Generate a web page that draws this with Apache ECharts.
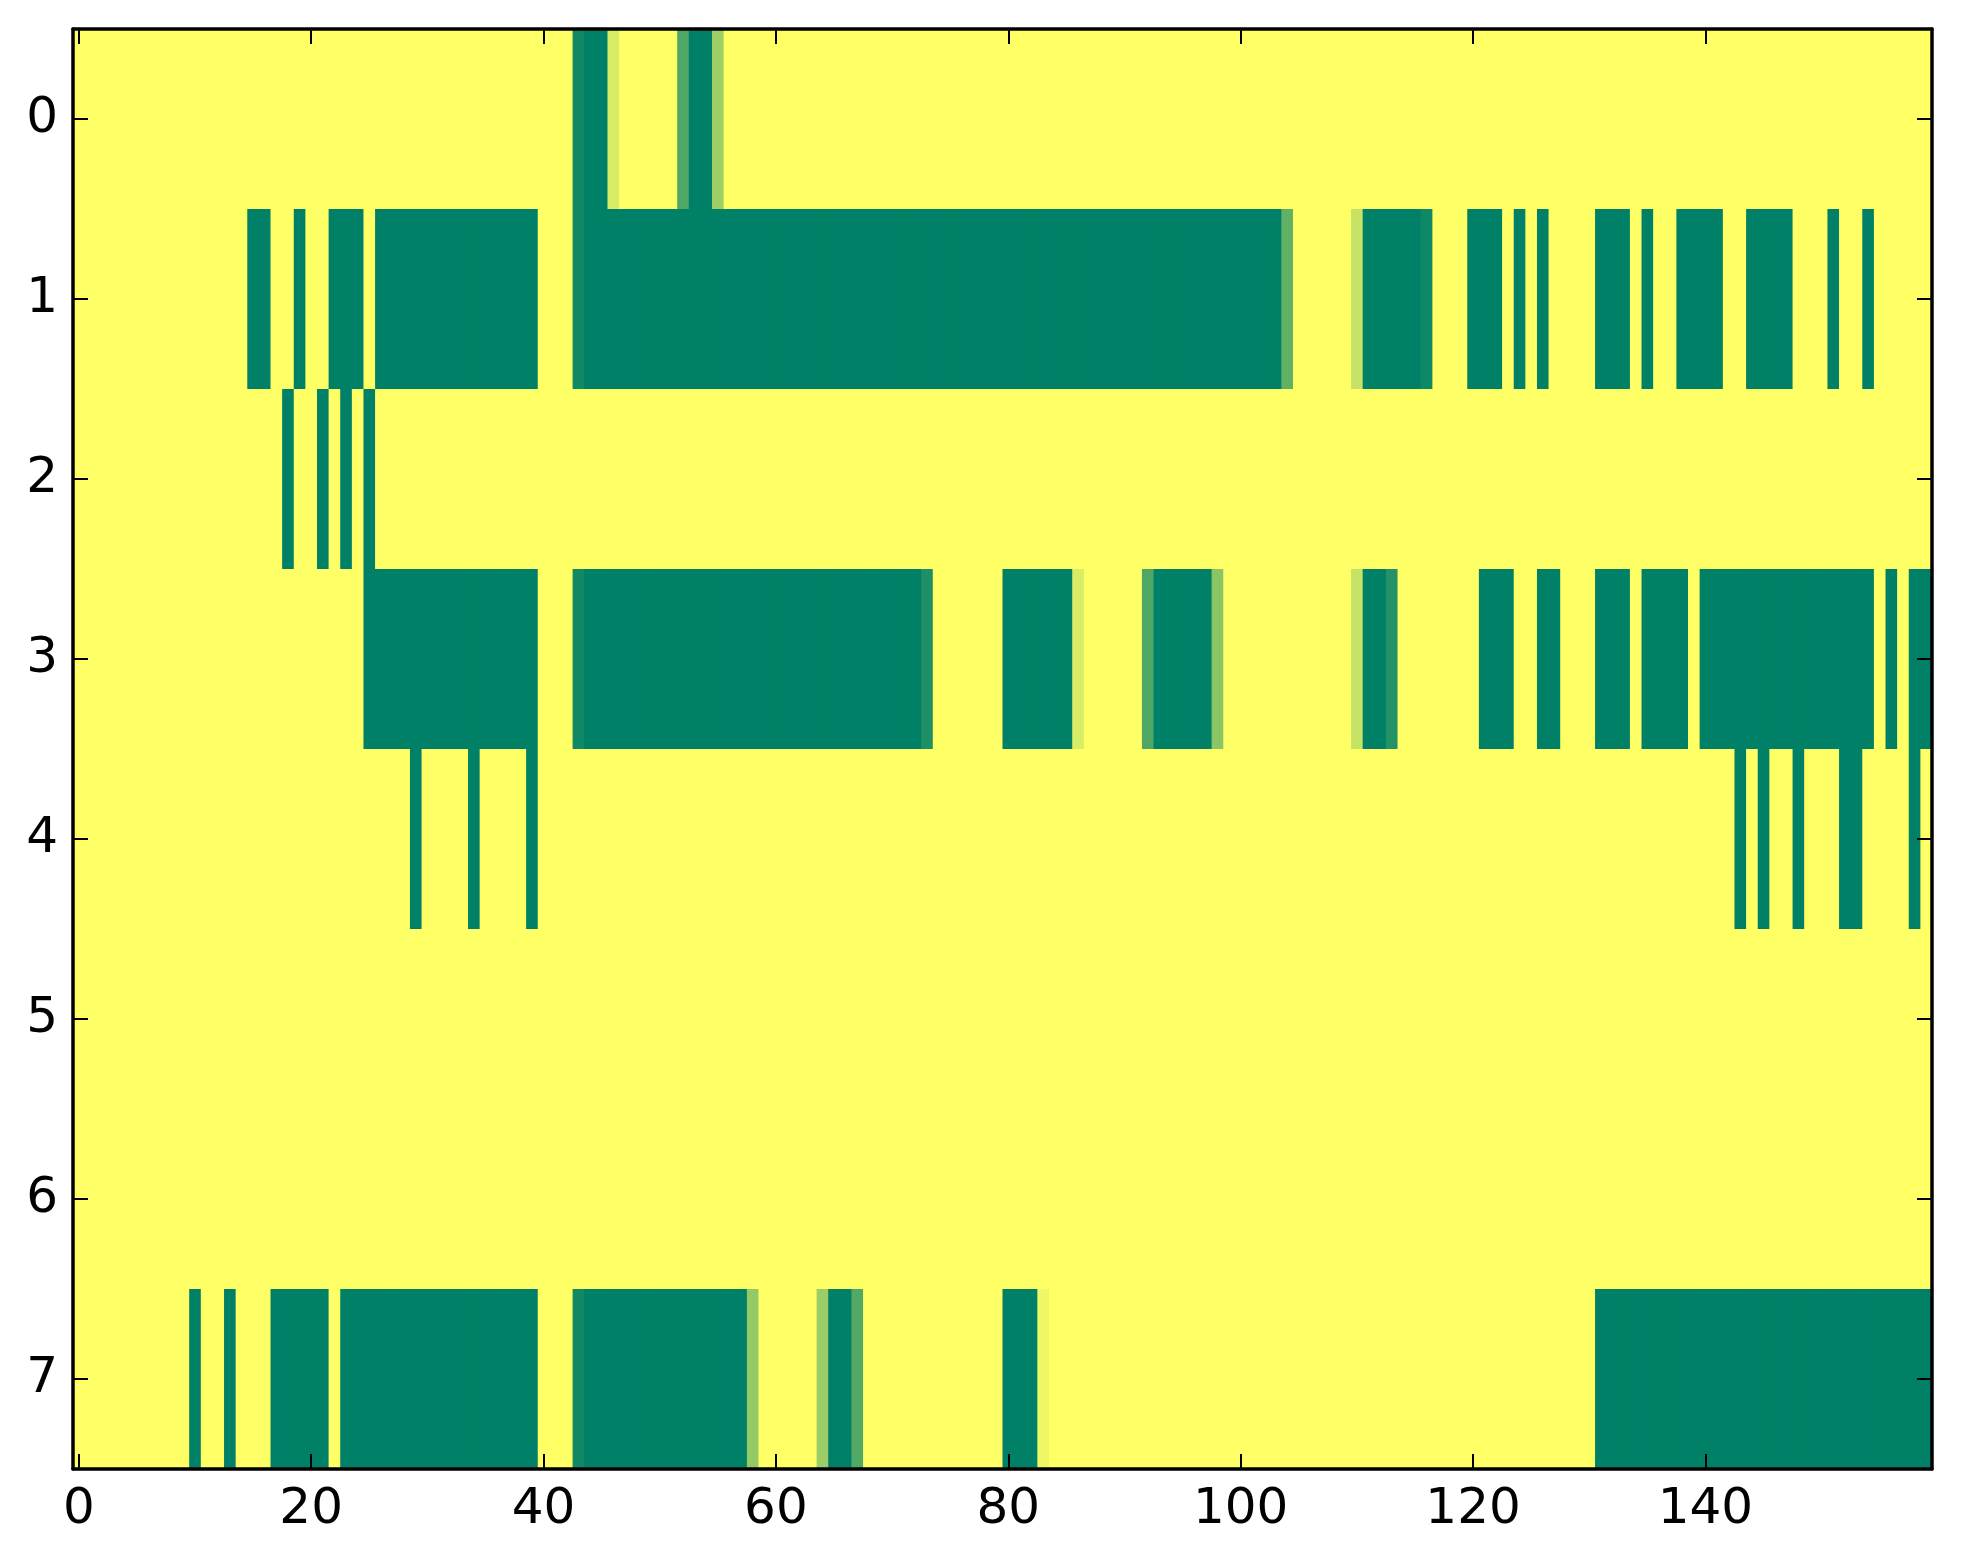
<!DOCTYPE html>
<html>
<head>
<meta charset="utf-8">
<script src="https://cdn.jsdelivr.net/npm/echarts@6/dist/echarts.min.js"></script>
<style>
html,body{margin:0;padding:0;background:#fff;}
#chart{width:1963px;height:1564px;}
</style>
</head>
<body>
<div id="chart"></div>
<script>
// Green level of each cell (0 = yellow, 1 = dark green), 160 columns per row
const row0 = [
0,0,0,0,0,0,0,0,0,0,0,0,0,0,0,0,0,0,0,0,
0,0,0,0,0,0,0,0,0,0,0,0,0,0,0,0,0,0,0,0,
0,0,0,0.93,1,1,0.15,0,0,0,0,0,0.69,1,1,0.38,0,0,0,0,
0,0,0,0,0,0,0,0,0,0,0,0,0,0,0,0,0,0,0,0,
0,0,0,0,0,0,0,0,0,0,0,0,0,0,0,0,0,0,0,0,
0,0,0,0,0,0,0,0,0,0,0,0,0,0,0,0,0,0,0,0,
0,0,0,0,0,0,0,0,0,0,0,0,0,0,0,0,0,0,0,0,
0,0,0,0,0,0,0,0,0,0,0,0,0,0,0,0,0,0,0,0
];
const row1 = [
0,0,0,0,0,0,0,0,0,0,0,0,0,0,0,1,1,0,0,1,
0,0,1,1,1,0,1,1,1,1,1,1,1,1,1,1,1,1,1,1,
0,0,0,0.93,1,1,1,1,1,1,1,1,1,1,1,1,1,1,1,1,
1,1,1,1,1,1,1,1,1,1,1,1,1,1,1,1,1,1,1,1,
1,1,1,1,1,1,1,1,1,1,1,1,1,1,1,1,1,1,1,1,
1,1,1,1,0.62,0,0,0,0,0,0.22,1,1,1,1,1,0.94,0,0,0,
1,1,1,0,1,0,1,0,0,0,0,1,1,1,0,1,0,0,1,1,
1,1,0,0,1,1,1,1,0,0,0,1,0,0,1,0,0,0,0,0
];
const row2 = [
0,0,0,0,0,0,0,0,0,0,0,0,0,0,0,0,0,0,1,0,
0,1,0,1,0,1,0,0,0,0,0,0,0,0,0,0,0,0,0,0,
0,0,0,0,0,0,0,0,0,0,0,0,0,0,0,0,0,0,0,0,
0,0,0,0,0,0,0,0,0,0,0,0,0,0,0,0,0,0,0,0,
0,0,0,0,0,0,0,0,0,0,0,0,0,0,0,0,0,0,0,0,
0,0,0,0,0,0,0,0,0,0,0,0,0,0,0,0,0,0,0,0,
0,0,0,0,0,0,0,0,0,0,0,0,0,0,0,0,0,0,0,0,
0,0,0,0,0,0,0,0,0,0,0,0,0,0,0,0,0,0,0,0
];
const row3 = [
0,0,0,0,0,0,0,0,0,0,0,0,0,0,0,0,0,0,0,0,
0,0,0,0,0,1,1,1,1,1,1,1,1,1,1,1,1,1,1,1,
0,0,0,0.93,1,1,1,1,1,1,1,1,1,1,1,1,1,1,1,1,
1,1,1,1,1,1,1,1,1,1,1,1,1,0.88,0,0,0,0,0,0,
1,1,1,1,1,1,0.15,0,0,0,0,0,0.69,1,1,1,1,1,0.46,0,
0,0,0,0,0,0,0,0,0,0,0.22,1,1,0.86,0,0,0,0,0,0,
0,1,1,1,0,0,1,1,0,0,0,1,1,1,0,1,1,1,1,0,
1,1,1,1,1,1,1,1,1,1,1,1,1,1,1,0,1,0,1,1
];
const row4 = [
0,0,0,0,0,0,0,0,0,0,0,0,0,0,0,0,0,0,0,0,
0,0,0,0,0,0,0,0,0,1,0,0,0,0,1,0,0,0,0,1,
0,0,0,0,0,0,0,0,0,0,0,0,0,0,0,0,0,0,0,0,
0,0,0,0,0,0,0,0,0,0,0,0,0,0,0,0,0,0,0,0,
0,0,0,0,0,0,0,0,0,0,0,0,0,0,0,0,0,0,0,0,
0,0,0,0,0,0,0,0,0,0,0,0,0,0,0,0,0,0,0,0,
0,0,0,0,0,0,0,0,0,0,0,0,0,0,0,0,0,0,0,0,
0,0,0,1,0,1,0,0,1,0,0,0,1,1,0,0,0,0,1,0
];
const row5 = [
0,0,0,0,0,0,0,0,0,0,0,0,0,0,0,0,0,0,0,0,
0,0,0,0,0,0,0,0,0,0,0,0,0,0,0,0,0,0,0,0,
0,0,0,0,0,0,0,0,0,0,0,0,0,0,0,0,0,0,0,0,
0,0,0,0,0,0,0,0,0,0,0,0,0,0,0,0,0,0,0,0,
0,0,0,0,0,0,0,0,0,0,0,0,0,0,0,0,0,0,0,0,
0,0,0,0,0,0,0,0,0,0,0,0,0,0,0,0,0,0,0,0,
0,0,0,0,0,0,0,0,0,0,0,0,0,0,0,0,0,0,0,0,
0,0,0,0,0,0,0,0,0,0,0,0,0,0,0,0,0,0,0,0
];
const row6 = [
0,0,0,0,0,0,0,0,0,0,0,0,0,0,0,0,0,0,0,0,
0,0,0,0,0,0,0,0,0,0,0,0,0,0,0,0,0,0,0,0,
0,0,0,0,0,0,0,0,0,0,0,0,0,0,0,0,0,0,0,0,
0,0,0,0,0,0,0,0,0,0,0,0,0,0,0,0,0,0,0,0,
0,0,0,0,0,0,0,0,0,0,0,0,0,0,0,0,0,0,0,0,
0,0,0,0,0,0,0,0,0,0,0,0,0,0,0,0,0,0,0,0,
0,0,0,0,0,0,0,0,0,0,0,0,0,0,0,0,0,0,0,0,
0,0,0,0,0,0,0,0,0,0,0,0,0,0,0,0,0,0,0,0
];
const row7 = [
0,0,0,0,0,0,0,0,0,0,1,0,0,1,0,0,0,1,1,1,
1,1,0,1,1,1,1,1,1,1,1,1,1,1,1,1,1,1,1,1,
0,0,0,0.93,1,1,1,1,1,1,1,1,1,1,1,1,1,1,0.42,0,
0,0,0,0,0.39,1,1,0.68,0,0,0,0,0,0,0,0,0,0,0,0,
1,1,1,0.06,0,0,0,0,0,0,0,0,0,0,0,0,0,0,0,0,
0,0,0,0,0,0,0,0,0,0,0,0,0,0,0,0,0,0,0,0,
0,0,0,0,0,0,0,0,0,0,0,1,1,1,1,1,1,1,1,1,
1,1,1,1,1,1,1,1,1,1,1,1,1,1,1,1,1,1,1,1
];
const rows = [row0, row1, row2, row3, row4, row5, row6, row7];
const rowLabels = ['0','1','2','3','4','5','6','7'];
const colLabels = [];
for (let i = 0; i < row0.length; i++) colLabels.push(String(i));
const xLabelStep = 20;

const data = [];
rows.forEach((r, y) => r.forEach((v, x) => data.push([x, y, v])));

const chart = echarts.init(document.getElementById('chart'), null, {renderer: 'canvas'});
const font = 'DejaVu Sans';
const lineStyle = {color: '#000', width: 3.5};
const tickStyle = {color: '#000', width: 2};
const xTickFn = (i) => i % xLabelStep === 0;

function renderCell(params, api) {
  const c = api.coord([api.value(0), api.value(1)]);
  const s = api.size([1, 1]);
  return {
    type: 'rect',
    shape: {x: c[0] - s[0] / 2, y: c[1] - s[1] / 2, width: s[0] + 0.8, height: s[1] + 0.8},
    style: {fill: api.visual('color')}
  };
}

chart.setOption({
  animation: false,
  backgroundColor: '#ffffff',
  grid: {left: 73, right: 31, top: 29, bottom: 95},
  visualMap: {show: false, min: 0, max: 1, dimension: 2, seriesIndex: 0,
    inRange: {color: ['#FFFF66', '#008066']}},
  xAxis: [
    {type: 'category', data: colLabels, position: 'bottom', z: 10,
      axisLine: {show: true, onZero: false, lineStyle: lineStyle},
      axisTick: {show: true, inside: true, alignWithLabel: true, interval: xTickFn, length: 15, lineStyle: tickStyle},
      axisLabel: {interval: xTickFn, fontSize: 50, fontFamily: font, color: '#000', margin: 16},
      splitLine: {show: false}},
    {type: 'category', data: colLabels, position: 'top', z: 10,
      axisLine: {show: true, onZero: false, lineStyle: lineStyle},
      axisTick: {show: true, inside: true, alignWithLabel: true, interval: xTickFn, length: 15, lineStyle: tickStyle},
      axisLabel: {show: false}, splitLine: {show: false}}
  ],
  yAxis: [
    {type: 'category', data: rowLabels, inverse: true, position: 'left', z: 10,
      axisLine: {show: true, onZero: false, lineStyle: lineStyle},
      axisTick: {show: true, inside: true, alignWithLabel: true, length: 15, lineStyle: tickStyle},
      axisLabel: {fontSize: 50, fontFamily: font, color: '#000', margin: 15},
      splitLine: {show: false}},
    {type: 'category', data: rowLabels, inverse: true, position: 'right', z: 10,
      axisLine: {show: true, onZero: false, lineStyle: lineStyle},
      axisTick: {show: true, inside: true, alignWithLabel: true, length: 15, lineStyle: tickStyle},
      axisLabel: {show: false}, splitLine: {show: false}}
  ],
  series: [{
    type: 'custom', xAxisIndex: 0, yAxisIndex: 0, data: data,
    renderItem: renderCell, clip: true,
    encode: {x: 0, y: 1},
    emphasis: {disabled: true}, z: 1, silent: true
  }]
});
</script>
</body>
</html>
